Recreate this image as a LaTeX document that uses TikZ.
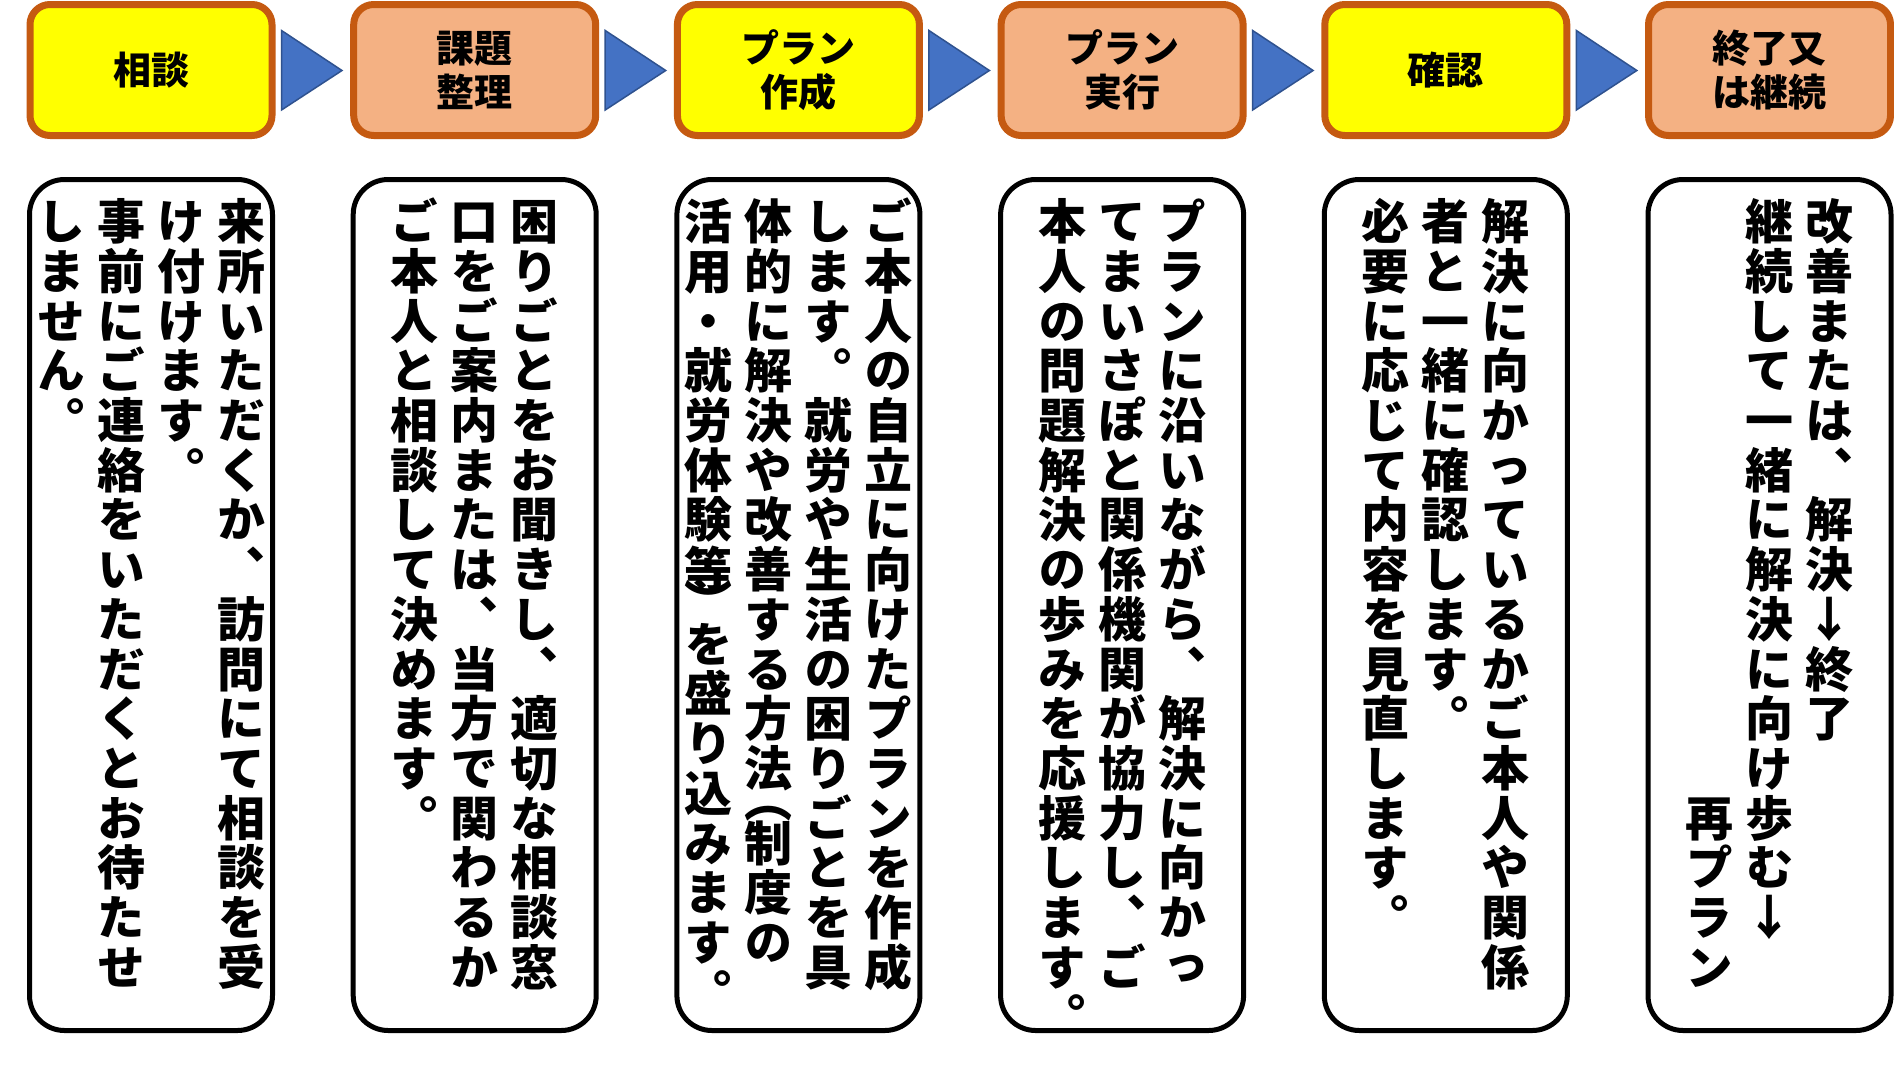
\documentclass[tikz,border=0pt]{standalone}
\usepackage{fontspec}
\usetikzlibrary{calc}
\newfontfamily\jpv[RawFeature={+vert}]{Noto Sans CJK JP}
\newfontfamily\jph{Noto Sans CJK JP}
\definecolor{hline}{HTML}{C55A11}
\definecolor{hyel}{HTML}{FFFF00}
\definecolor{hpch}{HTML}{F4B183}
\definecolor{trif}{HTML}{4472C4}
\definecolor{tril}{HTML}{2F528F}
\newcommand\tcol[4]{\foreach \ch [count=\k from 0] in {#4}{\node[vch] (#1-\k) at ({#2},{221.5+49.7*(#3+\k)}) {\ch};}}
\tikzset{
  hbox/.style={draw=hline, line width=7pt, rounded corners=20pt, minimum width=242pt, minimum height=131pt,
    align=center, inner sep=0pt, font=\jph\bfseries\fontsize{38}{44}\selectfont},
  bbox/.style={draw=black, line width=5pt, rounded corners=35pt, minimum width=243pt, minimum height=851pt, inner sep=0pt},
  tri/.style={fill=trif, draw=tril, line width=1.5pt},
  vch/.style={inner sep=0pt, text height=42.24pt, text depth=5.76pt, font=\jpv\bfseries\fontsize{48}{50}\selectfont},
  vpar/.style={inner sep=0pt, font=\jpv\bfseries\fontsize{48}{50}\selectfont}
}
\begin{document}
\begin{tikzpicture}[x=1pt,y=-1pt]
\useasboundingbox[fill=white] (0,0) rectangle (1894,1076);
% header boxes
\node[hbox, fill=hyel] (h1) at (151,70) {相談};
\node[hbox, fill=hpch] (h2) at (474.7,70) {課題\\整理};
\node[hbox, fill=hyel] (h3) at (798.4,70) {プラン\\作成};
\node[hbox, fill=hpch] (h4) at (1122.1,70) {プラン\\実行};
\node[hbox, fill=hyel] (h5) at (1445.8,70) {確認};
\node[hbox, fill=hpch] (h6) at (1769.5,70) {終了又\\は継続};
% arrows
\foreach \a in {1,...,5}{
  \filldraw[tri] ($(h\a.east)+(6,-39.5)$) -- ($(h\a.east)+(66.5,0.5)$) -- ($(h\a.east)+(6,40)$) -- cycle;
}
% body boxes
\node[bbox] (t1) at (151,605) {};
\node[bbox] (t2) at (474.7,605) {};
\node[bbox] (t3) at (798.4,605) {};
\node[bbox] (t4) at (1122.1,605) {};
\node[bbox] (t5) at (1445.8,605) {};
\node[bbox] (t6) at (1769.5,605) {};
% box 1
\tcol{b1a}{241}{0}{来,所,い,た,だ,く,か,︑,訪,問,に,て,相,談,を,受}
\tcol{b1b}{181}{0}{け,付,け,ま,す,︒}
\tcol{b1c}{121}{0}{事,前,に,ご,連,絡,を,い,た,だ,く,と,お,待,た,せ}
\tcol{b1d}{61}{0}{し,ま,せ,ん,︒}
% box 2
\tcol{b2a}{534.7}{0}{困,り,ご,と,を,お,聞,き,し,︑,適,切,な,相,談,窓}
\tcol{b2b}{474.7}{0}{口,を,ご,案,内,ま,た,は,︑,当,方,で,関,わ,る,か}
\tcol{b2c}{414.7}{0}{ご,本,人,と,相,談,し,て,決,め,ま,す,︒}
% box 3
\tcol{b3a}{888.4}{0}{ご,本,人,の,自,立,に,向,け,た,プ,ラ,ン,を,作,成}
\tcol{b3b}{828.4}{0}{し,ま,す,︒,就,労,や,生,活,の,困,り,ご,と,を,具}
\tcol{b3c}{768.4}{0}{体,的,に,解,決,や,改,善,す,る,方,法}
\node[vpar] (b3c-p) at (768.4,813.5) {︵};
\tcol{b3e}{768.4}{12.5}{制,度,の}
\tcol{b3d}{708.4}{0}{活,用,・,就,労,体,験,等}
\node[vpar] (b3d-p) at (708.4,600.5) {︶};
\tcol{b3f}{708.4}{8.5}{を,盛,り,込,み,ま,す,︒}
% box 4
\tcol{b4a}{1182.1}{0}{プ,ラ,ン,に,沿,い,な,が,ら,︑,解,決,に,向,か,っ}
\tcol{b4b}{1122.1}{0}{て,ま,い,さ,ぽ,と,関,係,機,関,が,協,力,し,︑,ご}
\tcol{b4c}{1062.1}{0}{本,人,の,問,題,解,決,の,歩,み,を,応,援,し,ま,す,︒}
% box 5
\tcol{b5a}{1505.8}{0}{解,決,に,向,か,っ,て,い,る,か,ご,本,人,や,関,係}
\tcol{b5b}{1445.8}{0}{者,と,一,緒,に,確,認,し,ま,す,︒}
\tcol{b5c}{1385.8}{0}{必,要,に,応,じ,て,内,容,を,見,直,し,ま,す,︒}
% box 6
\tcol{b6a}{1829.5}{0}{改,善,ま,た,は,︑,解,決,↓,終,了}
\tcol{b6b}{1769.5}{0}{継,続,し,て,一,緒,に,解,決,に,向,け,歩,む,↓}
\tcol{b6c}{1709.5}{12}{再,プ,ラ,ン}
\end{tikzpicture}
\end{document}
